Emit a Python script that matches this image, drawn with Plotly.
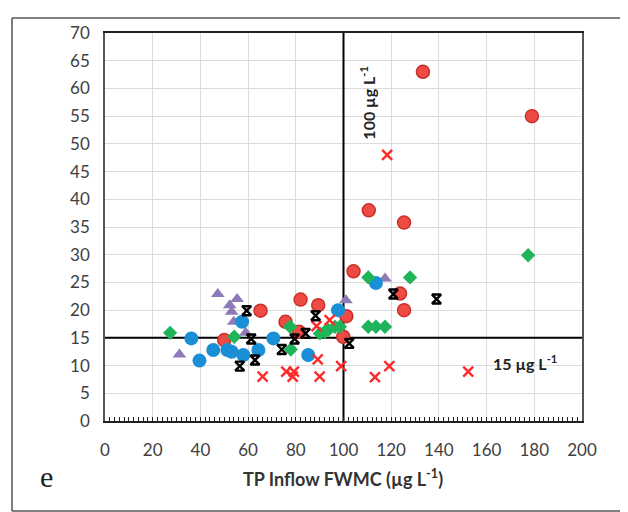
import plotly.graph_objects as go

# ---- data ----
red_circle_x = [133.3, 179.0, 110.6, 125.4, 104.2, 123.7, 125.4, 101.2, 99.9, 82.0, 89.4, 65.2, 75.7, 81.4, 50.0]
red_circle_y = [63.0, 55.0, 38.0, 35.8, 27.0, 23.0, 20.0, 18.9, 15.2, 21.9, 20.9, 19.9, 17.9, 16.1, 14.6]

red_x_x = [118.3, 66.1, 76.0, 79.2, 78.7, 90.0, 89.2, 99.0, 113.2, 119.2, 152.3, 94.2, 88.7]
red_x_y = [48.0, 8.0, 8.9, 8.9, 8.0, 8.0, 11.1, 9.9, 7.9, 9.9, 8.9, 18.2, 17.1]

green_x = [177.4, 110.4, 127.9, 110.4, 113.6, 117.4, 98.5, 27.3, 54.2, 77.6, 77.9, 90.1, 92.2, 93.6, 96.4]
green_y = [29.9, 25.9, 25.9, 17.0, 17.0, 17.0, 17.0, 15.9, 15.2, 17.0, 12.9, 15.8, 16.1, 16.4, 17.0]

purple_x = [47.3, 55.4, 52.3, 53.1, 54.0, 31.2, 59.0, 101.0, 117.4]
purple_y = [22.9, 22.0, 20.9, 19.7, 17.9, 12.0, 15.9, 21.8, 25.7]

blue_x = [113.6, 97.7, 57.5, 36.2, 39.6, 45.4, 51.3, 53.1, 58.0, 64.3, 70.6, 85.2]
blue_y = [24.9, 20.0, 17.9, 14.9, 10.9, 12.8, 12.8, 12.5, 11.9, 12.8, 14.9, 11.9]

black_x = [120.9, 139.0, 102.4, 59.4, 61.3, 56.5, 62.9, 74.1, 79.5, 84.1, 88.3]
black_y = [22.9, 22.0, 14.0, 19.9, 14.8, 9.9, 11.0, 12.9, 14.8, 15.8, 19.0]

x_ticks = [0, 20, 40, 60, 80, 100, 120, 140, 160, 180, 200]
y_ticks = [0, 5, 10, 15, 20, 25, 30, 35, 40, 45, 50, 55, 60, 65, 70]

v_line_x = [100, 100]
v_line_y = [0, 70]
h_line_x = [0, 201.5]
h_line_y = [15, 15]

# ---- figure ----
W, H = 628, 512
OFF = 8                      # page body margin offset
PL, PT, PW, PH = 105, 33, 477, 388   # plot area in window pixels
L, T = PL - OFF, PT - OFF
R = W - L - PW
B = H - T - PH

def px2paper_x(px):
    return (px - PL) / PW

def px2paper_y(py):
    return (PT + PH - py) / PH

fig = go.Figure()

fig.add_trace(go.Scatter(x=v_line_x, y=v_line_y, mode="lines",
                         line=dict(color="black", width=2), showlegend=False, hoverinfo="skip"))
fig.add_trace(go.Scatter(x=h_line_x, y=h_line_y, mode="lines", cliponaxis=False,
                         line=dict(color="black", width=2), showlegend=False, hoverinfo="skip"))

fig.add_trace(go.Scatter(x=red_circle_x, y=red_circle_y, mode="markers",
                         marker=dict(symbol="circle", size=13, color="#ef4b45",
                                     line=dict(color="#c8302a", width=1.5)), showlegend=False))
fig.add_trace(go.Scatter(x=purple_x, y=purple_y, mode="markers",
                         marker=dict(symbol="triangle-up", size=12, color="#8f7ab8",
                                     line=dict(width=0)), showlegend=False))
fig.add_trace(go.Scatter(x=blue_x, y=blue_y, mode="markers",
                         marker=dict(symbol="circle", size=14, color="#1a8fd6",
                                     line=dict(width=0)), showlegend=False))
fig.add_trace(go.Scatter(x=green_x, y=green_y, mode="markers",
                         marker=dict(symbol="diamond", size=11, color="#1fb45a",
                                     line=dict(width=0)), showlegend=False))
fig.add_trace(go.Scatter(x=red_x_x, y=red_x_y, mode="markers",
                         marker=dict(symbol="x-thin-open", size=10, color="#ff2a2a",
                                     line=dict(color="#ff2a2a", width=2.4)), showlegend=False))
fig.add_trace(go.Scatter(x=black_x, y=black_y, mode="markers",
                         marker=dict(symbol="hourglass-open", size=9, color="black",
                                     line=dict(color="black", width=2.4)), showlegend=False))

tick_font = dict(family="Lato, 'Open Sans', sans-serif", size=17, color="#404040")

fig.update_xaxes(range=[0, 200], tickvals=x_ticks, ticktext=[str(v) for v in x_ticks],
                 showgrid=True, gridcolor="#dcdcdc", gridwidth=1,
                 showline=True, linecolor="#222222", linewidth=1.5, mirror=True,
                 ticks="inside", ticklen=4, tickcolor="#222222",
                 minor=dict(dtick=2, ticks="inside", ticklen=4, tickcolor="#222222", showgrid=False),
                 ticklabelstandoff=13, tickfont=tick_font, zeroline=False)
fig.update_yaxes(range=[0, 70], tickvals=y_ticks, ticktext=[str(v) for v in y_ticks],
                 showgrid=True, gridcolor="#dcdcdc", gridwidth=1,
                 showline=True, linecolor="#555555", linewidth=1.5, mirror=True,
                 ticks="", ticklabelstandoff=10, tickfont=tick_font, zeroline=False)

ann_font = dict(family="Lato, 'Open Sans', sans-serif", size=16, color="#222222")
fig.add_annotation(x=110.0, y=57.5, xref="x", yref="y", text="<b>100 µg L<sup>-1</sup></b>",
                   textangle=-90, showarrow=False, font=ann_font)
fig.add_annotation(x=176, y=10.6, xref="x", yref="y", text="<b>15 µg L<sup>-1</sup></b>",
                   showarrow=False, font=ann_font)

fig.add_annotation(x=px2paper_x(343), y=px2paper_y(478), xref="paper", yref="paper",
                   text="<b>TP Inflow FWMC (µg L<sup>-1</sup>)</b>", showarrow=False,
                   xanchor="center", yanchor="middle",
                   font=dict(family="Lato, 'Open Sans', sans-serif", size=18, color="#333333"))
fig.add_annotation(x=px2paper_x(46), y=px2paper_y(476), xref="paper", yref="paper",
                   text="e", showarrow=False, xanchor="center", yanchor="middle",
                   font=dict(family="'Liberation Serif', 'DejaVu Serif', serif", size=30, color="#222222"))

# outer frame (top, left, bottom)
fx0, fx1 = px2paper_x(12), px2paper_x(640)
fy_top, fy_bot = px2paper_y(18), px2paper_y(511)
for (x0, y0, x1, y1) in [(fx0, fy_top, fx1, fy_top), (fx0, fy_top, fx0, fy_bot), (fx0, fy_bot, fx1, fy_bot)]:
    fig.add_shape(type="line", xref="paper", yref="paper", x0=x0, y0=y0, x1=x1, y1=y1,
                  line=dict(color="#555555", width=1.5))

fig.update_layout(width=W, height=H, margin=dict(l=L, r=R, t=T, b=B, pad=0),
                  plot_bgcolor="white", paper_bgcolor="white", showlegend=False)

fig.write_html("out.html")
